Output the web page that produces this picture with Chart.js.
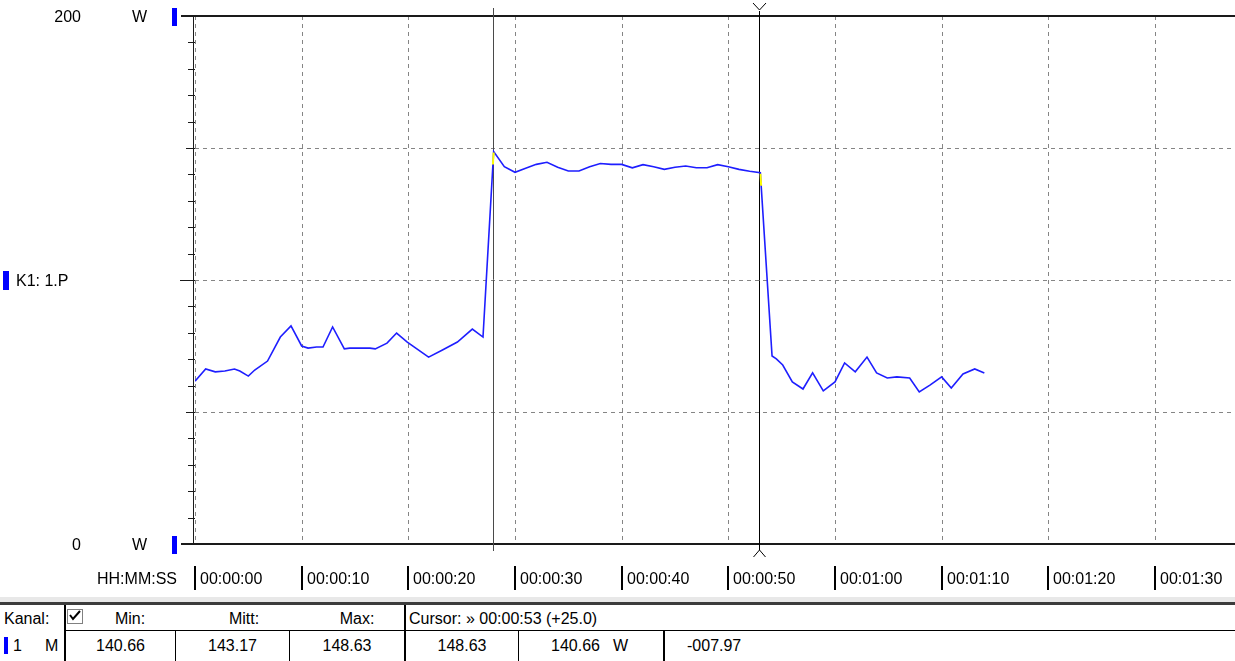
<!DOCTYPE html>
<html>
<head>
<meta charset="utf-8">
<script src="https://cdn.jsdelivr.net/npm/chart.js@4.4.1/dist/chart.umd.min.js"></script>
<style>
	html, body { margin: 0; padding: 0; background: #fff; overflow: hidden; }
	#wrap { position: absolute; left: 0; top: 0; width: 1235px; height: 600px; }
	#chart { display: block; }
	.t { position: absolute; font: 16px "Liberation Sans", Arial, sans-serif; line-height: 18px; white-space: nowrap; color: #000; }
	.c { text-align: center; }
	.ln { position: absolute; background: #000; }
</style>
</head>
<body>
<div id="wrap"><canvas id="chart" width="1235" height="600"></canvas></div>

<!-- status table under the scope -->
<div class="ln" style="left:0;top:597px;width:1235px;height:5px;background:#e8e8e8"></div>
<div class="ln" style="left:0;top:602px;width:1235px;height:3px;background:#3c3c3c"></div>
<div class="ln" style="left:64px;top:605px;width:2px;height:56px"></div>
<div class="ln" style="left:404px;top:605px;width:2px;height:56px"></div>
<div class="ln" style="left:66px;top:630px;width:1169px;height:1px"></div>
<div class="ln" style="left:175px;top:631px;width:1px;height:30px"></div>
<div class="ln" style="left:289px;top:631px;width:1px;height:30px"></div>
<div class="ln" style="left:518px;top:631px;width:1px;height:30px"></div>
<div class="ln" style="left:663px;top:631px;width:2px;height:30px"></div>

<div class="t" style="left:4px;top:610px">Kanal:</div>
<svg style="position:absolute;left:67px;top:609px" width="16" height="15">
	<rect x="0.5" y="0.5" width="15" height="14" fill="#fff" stroke="#808080"/>
	<path d="M3 6 L6 10 L13 2" fill="none" stroke="#000" stroke-width="2"/>
</svg>
<div class="t c" style="left:90px;width:80px;top:610px">Min:</div>
<div class="t c" style="left:204px;width:80px;top:610px">Mitt:</div>
<div class="t c" style="left:317px;width:80px;top:610px">Max:</div>
<div class="t" style="left:409px;top:610px">Cursor: » 00:00:53 (+25.0)</div>

<div class="ln" style="left:4px;top:637px;width:4px;height:17px;background:#0000ff"></div>
<div class="t" style="left:13px;top:637px">1</div>
<div class="t" style="left:45px;top:637px">M</div>
<div class="t c" style="left:66px;width:109px;top:637px">140.66</div>
<div class="t c" style="left:176px;width:113px;top:637px">143.17</div>
<div class="t c" style="left:290px;width:114px;top:637px">148.63</div>
<div class="t c" style="left:406px;width:112px;top:637px">148.63</div>
<div class="t" style="left:551px;top:637px">140.66</div>
<div class="t" style="left:613px;top:637px">W</div>
<div class="t" style="left:687px;top:637px">-007.97</div>

<script>
// samples (seconds, watts)
var timeSec = [
	0, 1, 1.9, 2.8, 3.7, 4.2, 5, 5.6, 6.8, 8, 9, 10, 10.6, 11.4, 12, 12.9, 14, 14.5,
	16.4, 16.9, 18, 18.9, 19.9, 20.8, 21.9, 23.2, 24.6, 26, 27,
	28, 29, 30, 31, 32, 33, 34, 35, 36, 37, 38, 39, 40, 41, 42, 43, 44, 45, 46, 47,
	48, 49, 50, 51, 52, 53,
	54.1, 54.5, 55.1, 56, 57, 57.9, 58.9, 60, 60.9, 61.9, 63, 63.9, 64.9, 65.8, 67,
	67.9, 68.9, 70, 70.9, 72, 73.1, 74
];
var powerW = [
	61.7, 66.3, 65.2, 65.5, 66.3, 65.5, 63.6, 65.9, 69.3, 78.4, 82.6, 75.0, 74.2, 74.6, 74.6, 82.2, 73.9, 74.2,
	74.2, 73.9, 76.1, 79.9, 76.5, 73.9, 70.8, 73.5, 76.5, 81.4, 78.4,
	148.63, 142.9, 140.8, 142.3, 143.8, 144.6, 142.7, 141.3, 141.3, 142.9, 144.1, 143.8, 143.8, 142.5, 143.7, 142.9, 141.9, 142.7, 143.2, 142.5,
	142.5, 143.7, 142.9, 141.9, 141.2, 140.66,
	71.2, 70.1, 67.8, 61.4, 58.7, 64.8, 58.0, 61.4, 68.6, 65.2, 70.8, 64.8, 62.9, 63.3, 62.9,
	57.6, 60.2, 63.3, 59.1, 64.4, 66.3, 64.8
];

var xTickValues = [0, 10, 20, 30, 40, 50, 60, 70, 80, 90];
var gridPower = [50, 100, 150];
var cursorTimes = [28, 53];
var yLabels = [200, 0];
var unitLabel = 'W';
var channelLabel = 'K1: 1.P';
var timeAxisLabel = 'HH:MM:SS';

var FONT = '16px "Liberation Sans", Arial, sans-serif';

function pad2(n) {
	return (n < 10 ? '0' : '') + n;
}

function hms(sec) {
	var h = Math.floor(sec / 3600), m = Math.floor(sec / 60) % 60, s = sec % 60;
	return pad2(h) + ':' + pad2(m) + ':' + pad2(s);
}

function line(ctx, x1, y1, x2, y2) {
	ctx.beginPath();
	ctx.moveTo(x1, y1);
	ctx.lineTo(x2, y2);
	ctx.stroke();
}

var scopePlugin = {
	id: 'scope',
	beforeDatasetsDraw: function(chart) {
		var ctx = chart.ctx, area = chart.chartArea;
		var xs = chart.scales.x, ys = chart.scales.y;
		ctx.save();

		// dashed grid
		ctx.strokeStyle = '#858585';
		ctx.lineWidth = 1;
		ctx.setLineDash([4, 4]);
		gridPower.forEach(function(v) {
			var y = Math.round(ys.getPixelForValue(v)) + 0.5;
			line(ctx, area.left, y, area.right, y);
		});
		xTickValues.forEach(function(v) {
			var x = Math.round(xs.getPixelForValue(v)) + 0.5;
			line(ctx, x, area.top, x, area.bottom);
		});
		ctx.setLineDash([]);

		// frame: top and bottom lines, left axis
		ctx.strokeStyle = '#1a1a1a';
		ctx.lineWidth = 2;
		line(ctx, 181, area.top, area.right, area.top);
		line(ctx, 181, area.bottom, area.right, area.bottom);
		ctx.lineWidth = 1;
		line(ctx, area.left - 1.5, area.top, area.left - 1.5, area.bottom);

		// y ticks every 10 W
		for (var v = 0; v <= 200; v += 10) {
			var y = Math.round(ys.getPixelForValue(v)) + 0.5;
			var len = v === 100 ? 14 : (v % 50 === 0 ? 8 : 6);
			line(ctx, area.left - 1 - len, y, area.left, y);
		}

		// cursors
		cursorTimes.forEach(function(t, i) {
			var x = Math.round(xs.getPixelForValue(t)) - 0.5;
			ctx.strokeStyle = i === 0 ? '#4a4a4a' : '#000';
			if (i === 0) {
				line(ctx, x, 8, x, 551);
			} else {
				line(ctx, x, 11, x, 550);
				line(ctx, x - 6.5, 3, x, 10);
				line(ctx, x + 6.5, 3, x, 10);
				line(ctx, x - 6, 557, x, 550);
				line(ctx, x + 6, 557, x, 550);
			}
		});
		ctx.restore();
	},
	afterDatasetsDraw: function(chart) {
		// yellow marks where the cursors catch the trace
		var ctx = chart.ctx, xs = chart.scales.x;
		var meta = chart.getDatasetMeta(0);
		cursorTimes.forEach(function(t, i) {
			var cx = xs.getPixelForValue(t);
			var p = meta.data[timeSec.indexOf(t)];
			ctx.save();
			ctx.beginPath();
			ctx.rect(i === 0 ? cx - 4 : cx - 1, p.y + 1, 5, 12);
			ctx.clip();
			ctx.strokeStyle = '#ffff00';
			ctx.lineWidth = 2;
			ctx.beginPath();
			meta.data.forEach(function(pt, j) {
				if (j === 0) ctx.moveTo(pt.x, pt.y); else ctx.lineTo(pt.x, pt.y);
			});
			ctx.stroke();
			ctx.restore();
		});
	},
	afterDraw: function(chart) {
		var ctx = chart.ctx, xs = chart.scales.x, ys = chart.scales.y;
		ctx.save();
		ctx.font = FONT;
		ctx.fillStyle = '#000';
		ctx.textBaseline = 'middle';

		yLabels.forEach(function(v) {
			var y = ys.getPixelForValue(v) + 1;
			ctx.textAlign = 'right';
			ctx.fillText(String(v), 81, y + 1);
			ctx.textAlign = 'left';
			ctx.fillText(unitLabel, 132, y + 1);
			ctx.fillStyle = '#0000ff';
			ctx.fillRect(172, y - 9, 5, 18);
			ctx.fillStyle = '#000';
		});

		var yMid = ys.getPixelForValue(100);
		ctx.fillStyle = '#0000ff';
		ctx.fillRect(3, yMid - 9, 6, 19);
		ctx.fillStyle = '#000';
		ctx.textAlign = 'left';
		ctx.fillText(channelLabel, 16, yMid + 2);

		ctx.textAlign = 'right';
		ctx.fillText(timeAxisLabel, 177, 580);
		ctx.textAlign = 'left';
		xTickValues.forEach(function(v) {
			var x = Math.round(xs.getPixelForValue(v));
			ctx.fillRect(x - 1, 566, 2, 24);
			ctx.fillText(hms(v), x + 5, 580);
		});
		ctx.restore();
	}
};

var points = timeSec.map(function(t, i) {
	return { x: t, y: powerW[i] };
});

new Chart(document.getElementById('chart'), {
	type: 'line',
	data: {
		datasets: [{
			data: points,
			borderColor: '#1e1eff',
			borderWidth: 1.6,
			pointRadius: 0,
			tension: 0,
			fill: false
		}]
	},
	options: {
		responsive: false,
		animation: false,
		devicePixelRatio: 1,
		layout: { padding: { top: 16, right: 0, bottom: 0, left: 0 } },
		plugins: {
			legend: { display: false },
			tooltip: { enabled: false }
		},
		scales: {
			x: {
				type: 'linear',
				min: 0,
				max: 97.5,
				grid: { display: false },
				border: { display: false },
				ticks: { display: false },
				afterFit: function(scale) { scale.height = 56; }
			},
			y: {
				min: 0,
				max: 200,
				grid: { display: false },
				border: { display: false },
				ticks: { display: false },
				afterFit: function(scale) { scale.width = 195; }
			}
		}
	},
	plugins: [scopePlugin]
});
</script>
</body>
</html>
